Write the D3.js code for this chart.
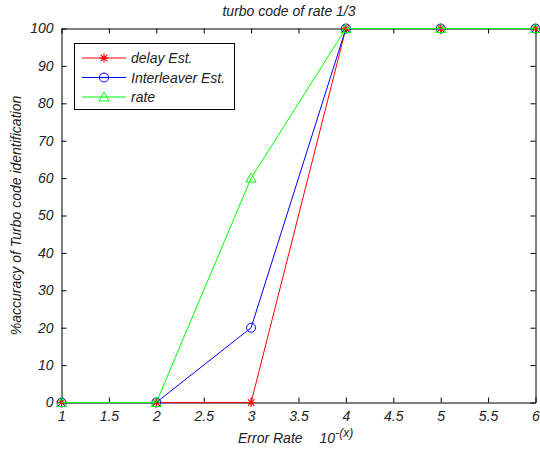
<!DOCTYPE html>
<html><head><meta charset="utf-8">
<script src="https://cdn.jsdelivr.net/npm/d3@7"></script>
<style>
body{margin:0;background:#fff;}
text{font-family:"Liberation Sans",Arial,sans-serif;font-style:italic;}
</style></head>
<body><svg id="c" width="540" height="450"></svg>
<script>
const xValues = [1, 2, 3, 4, 5, 6];
const delayEst = [0, 0, 0, 100, 100, 100];
const interleaverEst = [0, 0, 20, 100, 100, 100];
const rateSeries = [0, 0, 60, 100, 100, 100];
const seriesNames = ["delay Est.", "Interleaver Est.", "rate"];
const xTicks = [1, 1.5, 2, 2.5, 3, 3.5, 4, 4.5, 5, 5.5, 6];
const yTicks = [0, 10, 20, 30, 40, 50, 60, 70, 80, 90, 100];

const svg = d3.select("#c");
const L = 61.5, R = 535.5, T = 28.5, B = 402.5;
const x = d3.scaleLinear().domain([1, 6]).range([L, R]);
const y = d3.scaleLinear().domain([0, 100]).range([B, T]);

const fmt = d => String(d);
const axB = svg.append("g").attr("transform", `translate(0,${B})`)
  .call(d3.axisBottom(x).tickValues(xTicks).tickFormat(fmt).tickSizeInner(-5).tickSizeOuter(0).tickPadding(9));
const axT = svg.append("g").attr("transform", `translate(0,${T})`)
  .call(d3.axisTop(x).tickValues(xTicks).tickFormat("").tickSizeInner(-5).tickSizeOuter(0));
const axL = svg.append("g").attr("transform", `translate(${L},0)`)
  .call(d3.axisLeft(y).tickValues(yTicks).tickFormat(fmt).tickSizeInner(-5).tickSizeOuter(0).tickPadding(8));
const axR = svg.append("g").attr("transform", `translate(${R},0)`)
  .call(d3.axisRight(y).tickValues(yTicks).tickFormat("").tickSizeInner(-5).tickSizeOuter(0));
[axB, axT, axL, axR].forEach(g => {
  g.selectAll("path").attr("stroke", "#000").attr("stroke-width", 1);
  g.selectAll("line").attr("stroke", "#000");
  g.selectAll("text").attr("fill", "#222").style("font-size", "14px").style("font-family", "Liberation Sans, Arial").style("font-style", "italic");
});

const series = [
  {name: seriesNames[0], vals: delayEst, color: "#ff0000", marker: "star"},
  {name: seriesNames[1], vals: interleaverEst, color: "#0000ff", marker: "circle"},
  {name: seriesNames[2], vals: rateSeries, color: "#00ff00", marker: "triangle"}
];
const line = d3.line().x((d, i) => x(xValues[i])).y(d => y(d));

function drawMarker(g, type, cx, cy, color) {
  if (type === "star") {
    const s = 4.5;
    const p = `M${cx - s},${cy}L${cx + s},${cy}M${cx},${cy - s}L${cx},${cy + s}M${cx - 3.2},${cy - 3.2}L${cx + 3.2},${cy + 3.2}M${cx - 3.2},${cy + 3.2}L${cx + 3.2},${cy - 3.2}`;
    g.append("path").attr("d", p).attr("stroke", color).attr("stroke-width", 1.2).attr("fill", "none");
  } else if (type === "circle") {
    g.append("circle").attr("cx", cx).attr("cy", cy).attr("r", 4.5).attr("stroke", color).attr("fill", "none").attr("stroke-width", 1);
  } else {
    g.append("path").attr("d", `M${cx},${cy - 5}L${cx + 5},${cy + 4}L${cx - 5},${cy + 4}Z`).attr("stroke", color).attr("fill", "none").attr("stroke-width", 1);
  }
}

const plot = svg.append("g");
series.forEach(s => {
  plot.append("path").datum(s.vals).attr("d", line).attr("fill", "none").attr("stroke", s.color).attr("stroke-width", 1);
  s.vals.forEach((v, i) => drawMarker(plot, s.marker, x(xValues[i]), y(v), s.color));
});

svg.append("text").attr("x", 289).attr("y", 16).attr("text-anchor", "middle").style("font-size", "14px").attr("fill", "#222").text("turbo code of rate 1/3");

const xl = svg.append("text").attr("x", 238).attr("y", 443).style("font-size", "14px").attr("fill", "#222");
xl.append("tspan").text("Error Rate");
xl.append("tspan").attr("dx", 17).text("10");
xl.append("tspan").attr("dy", -6).style("font-size", "12px").text("-(x)");

svg.append("text").attr("transform", `translate(21,${(T + B) / 2}) rotate(-90)`).attr("text-anchor", "middle").style("font-size", "14px").attr("fill", "#222").text("%accuracy of Turbo code identification");

const lg = svg.append("g");
lg.append("rect").attr("x", 74.5).attr("y", 43.5).attr("width", 160).attr("height", 66).attr("fill", "#fff").attr("stroke", "#000").attr("stroke-width", 1);
series.forEach((s, i) => {
  const ly = 58 + i * 19.5;
  lg.append("line").attr("x1", 82).attr("x2", 126).attr("y1", ly).attr("y2", ly).attr("stroke", s.color).attr("stroke-width", 1);
  drawMarker(lg, s.marker, 104, ly, s.color);
  lg.append("text").attr("x", 131).attr("y", ly + 5).style("font-size", "14px").attr("fill", "#222").text(s.name);
});
</script></body></html>
